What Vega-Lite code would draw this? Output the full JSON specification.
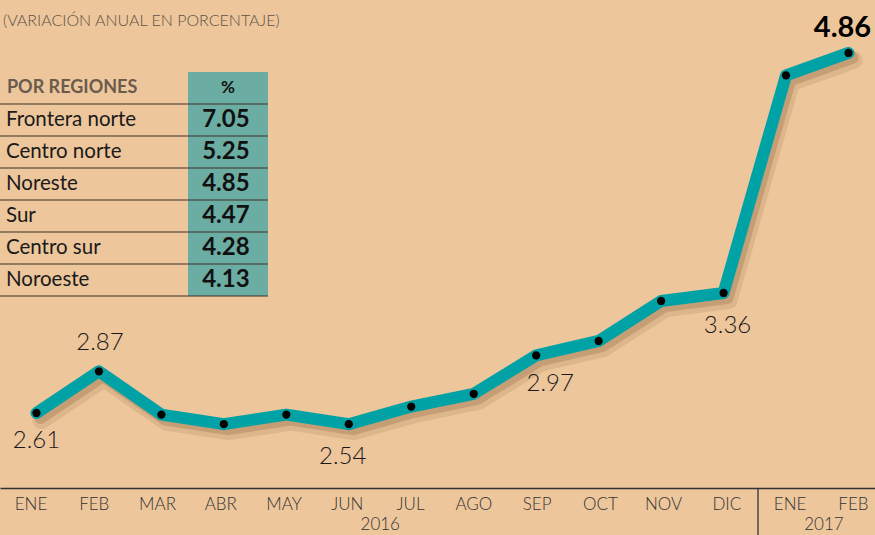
{
  "$schema": "https://vega.github.io/schema/vega-lite/v6.json",
  "width": 875,
  "height": 488,
  "autosize": {"type": "none"},
  "padding": {"left": 0, "top": 0, "right": 0, "bottom": 47},
  "background": "#EDC69C",
  "config": {"view": {"stroke": null}, "font": "Lato", "text": {"font": "Lato"}},
  "title": {
    "text": "(VARIACIÓN ANUAL EN PORCENTAJE)",
    "anchor": "start",
    "frame": "group",
    "orient": "top",
    "offset": -45,
    "dx": 3,
    "baseline": "bottom",
    "font": "Lato",
    "fontSize": 16,
    "fontWeight": 300,
    "color": "#5E5247"
  },
  "datasets": {
    "serie": [
      {"fecha": "2016-01", "valor": 2.61},
      {"fecha": "2016-02", "valor": 2.87},
      {"fecha": "2016-03", "valor": 2.60},
      {"fecha": "2016-04", "valor": 2.54},
      {"fecha": "2016-05", "valor": 2.60},
      {"fecha": "2016-06", "valor": 2.54},
      {"fecha": "2016-07", "valor": 2.65},
      {"fecha": "2016-08", "valor": 2.73},
      {"fecha": "2016-09", "valor": 2.97},
      {"fecha": "2016-10", "valor": 3.06},
      {"fecha": "2016-11", "valor": 3.31},
      {"fecha": "2016-12", "valor": 3.36},
      {"fecha": "2017-01", "valor": 4.72},
      {"fecha": "2017-02", "valor": 4.86}
    ],
    "regiones": [
      {"region": "POR REGIONES", "valor": "%"},
      {"region": "Frontera norte", "valor": "7.05"},
      {"region": "Centro norte", "valor": "5.25"},
      {"region": "Noreste", "valor": "4.85"},
      {"region": "Sur", "valor": "4.47"},
      {"region": "Centro sur", "valor": "4.28"},
      {"region": "Noroeste", "valor": "4.13"}
    ]
  },
  "layer": [
    {
      "data": {"name": "serie"},
      "encoding": {
        "x": {
          "field": "fecha",
          "type": "ordinal",
          "scale": {
            "type": "point",
            "domain": ["2016-01","2016-02","2016-03","2016-04","2016-05","2016-06","2016-07","2016-08","2016-09","2016-10","2016-11","2016-12","2017-01","2017-02"],
            "padding": 0.5043,
            "align": 0.579
          },
          "axis": {
            "title": null,
            "grid": false,
            "ticks": false,
            "domainColor": "#333333",
            "domainWidth": 1.3,
            "labelAngle": 0,
            "labelFont": "Lato",
            "labelFontSize": 17,
            "labelFontWeight": 300,
            "labelColor": "#333333",
            "labelPadding": 8,
            "labelOffset": {"expr": "-6 + 0.8 * (indexof(['2016-01','2016-02','2016-03','2016-04','2016-05','2016-06','2016-07','2016-08','2016-09','2016-10','2016-11','2016-12','2017-01','2017-02'], datum.value))"},
            "labelExpr": "['ENE','FEB','MAR','ABR','MAY','JUN','JUL','AGO','SEP','OCT','NOV','DIC'][toNumber(slice(datum.value, 5)) - 1]"
          }
        },
        "y": {
          "field": "valor",
          "type": "quantitative",
          "scale": {"domain": [2.141, 5.191], "nice": false, "zero": false},
          "axis": null
        }
      },
      "layer": [
        {
          "mark": {"type": "line", "color": "#6B3F18", "opacity": 0.12, "strokeWidth": 18, "strokeCap": "round", "strokeJoin": "round", "xOffset": 5, "yOffset": 7}
        },
        {
          "mark": {"type": "line", "color": "#6B3F18", "opacity": 0.2, "strokeWidth": 12, "strokeCap": "round", "strokeJoin": "round", "xOffset": 4, "yOffset": 5}
        },
        {
          "mark": {"type": "line", "color": "#00A2A6", "strokeWidth": 12, "strokeCap": "round", "strokeJoin": "round"}
        },
        {
          "mark": {"type": "point", "filled": true, "color": "#000000", "opacity": 1, "size": 68}
        },
        {
          "transform": [{"filter": "datum.fecha == '2016-01'"}],
          "mark": {"type": "text", "fontSize": 24, "fontWeight": 300, "color": "#1A1A1A", "baseline": "middle", "dy": 28, "dx": 0},
          "encoding": {"text": {"field": "valor", "type": "quantitative", "format": ".2f"}}
        },
        {
          "transform": [{"filter": "datum.fecha == '2016-02'"}],
          "mark": {"type": "text", "fontSize": 24, "fontWeight": 300, "color": "#1A1A1A", "baseline": "middle", "dy": -28, "dx": 1},
          "encoding": {"text": {"field": "valor", "type": "quantitative", "format": ".2f"}}
        },
        {
          "transform": [{"filter": "datum.fecha == '2016-06'"}],
          "mark": {"type": "text", "fontSize": 24, "fontWeight": 300, "color": "#1A1A1A", "baseline": "middle", "dy": 33, "dx": -6},
          "encoding": {"text": {"field": "valor", "type": "quantitative", "format": ".2f"}}
        },
        {
          "transform": [{"filter": "datum.fecha == '2016-09'"}],
          "mark": {"type": "text", "fontSize": 24, "fontWeight": 300, "color": "#1A1A1A", "baseline": "middle", "dy": 29, "dx": 14},
          "encoding": {"text": {"field": "valor", "type": "quantitative", "format": ".2f"}}
        },
        {
          "transform": [{"filter": "datum.fecha == '2016-12'"}],
          "mark": {"type": "text", "fontSize": 24, "fontWeight": 300, "color": "#1A1A1A", "baseline": "middle", "dy": 33, "dx": 4},
          "encoding": {"text": {"field": "valor", "type": "quantitative", "format": ".2f"}}
        },
        {
          "transform": [{"filter": "datum.fecha == '2017-02'"}],
          "mark": {"type": "text", "fontSize": 29, "fontWeight": "bold", "color": "#000000", "baseline": "middle", "dy": -25, "dx": -6},
          "encoding": {"text": {"field": "valor", "type": "quantitative", "format": ".2f"}}
        },
        {
          "transform": [{"filter": "datum.fecha == '2017-01'"}],
          "mark": {"type": "rule", "color": "#333333", "strokeWidth": 1.3, "xOffset": -28},
          "encoding": {
            "y": {"datum": 2.141, "type": "quantitative"},
            "y2": {"datum": 1.84}
          }
        },
        {
          "transform": [{"filter": "datum.fecha == '2016-07'"}],
          "mark": {"type": "text", "text": "2016", "fontSize": 17, "fontWeight": 300, "color": "#333333", "baseline": "middle", "dx": -31, "dy": -1.5},
          "encoding": {
            "y": {"datum": 1.9, "type": "quantitative"}
          }
        },
        {
          "transform": [{"filter": "datum.fecha == '2017-02'"}],
          "mark": {"type": "text", "text": "2017", "fontSize": 17, "fontWeight": 300, "color": "#333333", "baseline": "middle", "dx": -24.5, "dy": -1.5},
          "encoding": {
            "y": {"datum": 1.9, "type": "quantitative"}
          }
        }
      ]
    },
    {
      "data": {"name": "regiones"},
      "encoding": {
        "y": {
          "field": "region",
          "type": "nominal",
          "sort": null,
          "scale": {
            "type": "band",
            "domain": ["POR REGIONES","Frontera norte","Centro norte","Noreste","Sur","Centro sur","Noroeste"],
            "range": [72, 296],
            "paddingInner": 0,
            "paddingOuter": 0
          },
          "axis": null
        }
      },
      "layer": [
        {
          "mark": {"type": "rect", "color": "#6BADA3", "xOffset": 26.6, "x2Offset": 44.1},
          "encoding": {
            "x": {"datum": "2016-03", "type": "ordinal"},
            "x2": {"datum": "2016-04"}
          }
        },
        {
          "mark": {"type": "rule", "color": "#3A3029", "strokeWidth": 1.2, "xOffset": -36.5, "x2Offset": 44.1},
          "encoding": {
            "x": {"datum": "2016-01", "type": "ordinal"},
            "x2": {"datum": "2016-04"},
            "y": {"field": "region", "type": "nominal", "sort": null, "bandPosition": 1}
          }
        },
        {
          "transform": [{"filter": "datum.region != 'POR REGIONES'"}],
          "mark": {"type": "text", "align": "left", "baseline": "middle", "fontSize": 20.5, "color": "#1A1A1A", "dx": -30.5},
          "encoding": {
            "x": {"datum": "2016-01", "type": "ordinal"},
            "text": {"field": "region", "type": "nominal"}
          }
        },
        {
          "transform": [{"filter": "datum.region != 'POR REGIONES'"}],
          "mark": {"type": "text", "align": "center", "baseline": "middle", "fontSize": 24, "fontWeight": "bold", "color": "#111111", "dx": 2},
          "encoding": {
            "x": {"datum": "2016-04", "type": "ordinal"},
            "text": {"field": "valor", "type": "nominal"}
          }
        },
        {
          "transform": [{"filter": "datum.region == 'POR REGIONES'"}],
          "mark": {"type": "text", "align": "left", "baseline": "middle", "fontSize": 18, "fontWeight": "bold", "color": "#6B5B4D", "dx": -29.5},
          "encoding": {
            "x": {"datum": "2016-01", "type": "ordinal"},
            "text": {"field": "region", "type": "nominal"}
          }
        },
        {
          "transform": [{"filter": "datum.region == 'POR REGIONES'"}],
          "mark": {"type": "text", "align": "center", "baseline": "middle", "fontSize": 17, "fontWeight": "bold", "color": "#111111", "dx": 4},
          "encoding": {
            "x": {"datum": "2016-04", "type": "ordinal"},
            "text": {"field": "valor", "type": "nominal"}
          }
        }
      ]
    }
  ],
  "resolve": {"scale": {"y": "independent"}}
}
